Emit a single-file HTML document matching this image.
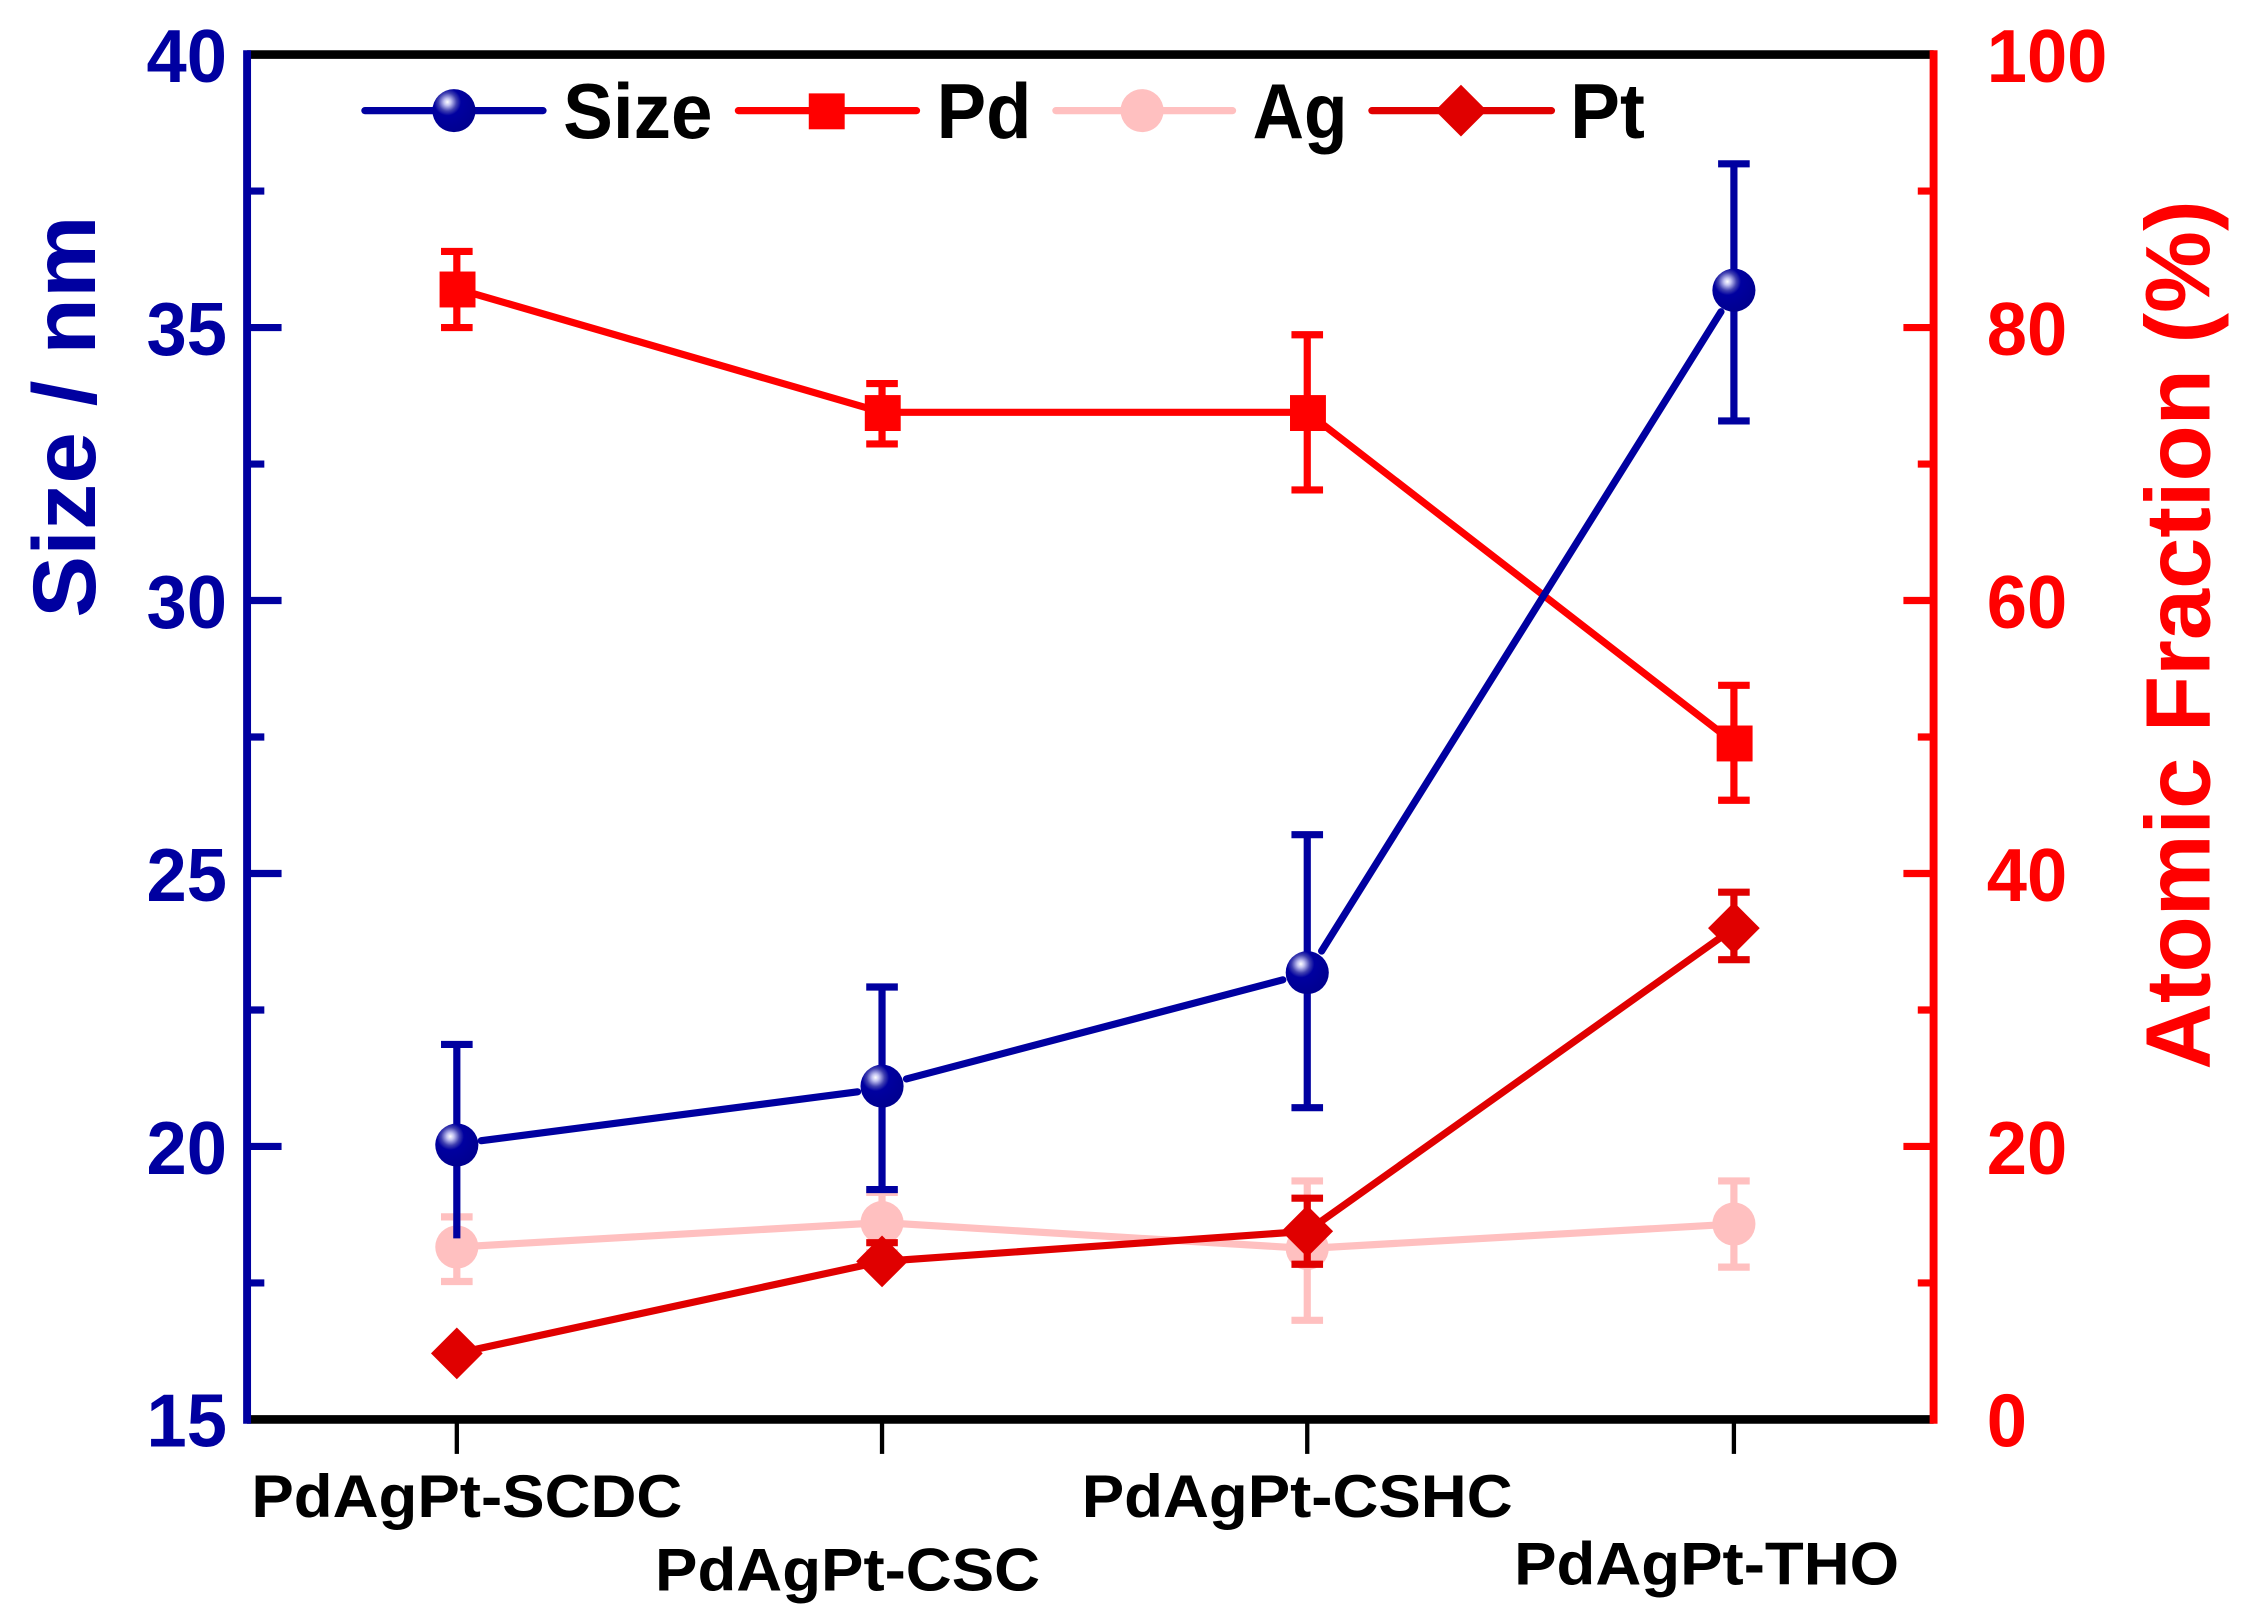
<!DOCTYPE html>
<html><head><meta charset="utf-8"><style>html,body{margin:0;padding:0;background:#fff}svg{display:block}</style></head>
<body>
<svg width="2241" height="1622" viewBox="0 0 1560 1129" preserveAspectRatio="none" xmlns="http://www.w3.org/2000/svg" font-family="'Liberation Sans', Arial, sans-serif" font-weight="bold">
<defs>
<radialGradient id="bg" cx="0.35" cy="0.3" r="0.7">
<stop offset="0" stop-color="#ffffff"/><stop offset="0.12" stop-color="#c0c0f0"/><stop offset="0.3" stop-color="#4040b0"/><stop offset="0.45" stop-color="#0000a0"/><stop offset="1" stop-color="#000090"/>
</radialGradient>
</defs>
<line x1="172" y1="38" x2="1346" y2="38" stroke="#000" stroke-width="6"/>
<line x1="172" y1="988" x2="1346" y2="988" stroke="#000" stroke-width="6"/>
<line x1="172" y1="35" x2="172" y2="991" stroke="#0000a0" stroke-width="5.5"/>
<line x1="1346" y1="35" x2="1346" y2="991" stroke="#ff0000" stroke-width="5.5"/>
<g stroke="#0000a0" stroke-width="5">
<line x1="172" y1="228" x2="196" y2="228"/><line x1="172" y1="418" x2="196" y2="418"/><line x1="172" y1="608" x2="196" y2="608"/><line x1="172" y1="798" x2="196" y2="798"/>
<line x1="172" y1="133" x2="184" y2="133"/><line x1="172" y1="323" x2="184" y2="323"/><line x1="172" y1="513" x2="184" y2="513"/><line x1="172" y1="703" x2="184" y2="703"/><line x1="172" y1="893" x2="184" y2="893"/>
</g>
<g stroke="#ff0000" stroke-width="5">
<line x1="1346" y1="228" x2="1325" y2="228"/><line x1="1346" y1="418" x2="1325" y2="418"/><line x1="1346" y1="608" x2="1325" y2="608"/><line x1="1346" y1="798" x2="1325" y2="798"/>
<line x1="1346" y1="133" x2="1335" y2="133"/><line x1="1346" y1="323" x2="1335" y2="323"/><line x1="1346" y1="513" x2="1335" y2="513"/><line x1="1346" y1="703" x2="1335" y2="703"/><line x1="1346" y1="893" x2="1335" y2="893"/>
</g>
<g stroke="#000" stroke-width="3">
<line x1="318" y1="988" x2="318" y2="1012"/><line x1="614" y1="988" x2="614" y2="1012"/><line x1="910" y1="988" x2="910" y2="1012"/><line x1="1207" y1="988" x2="1207" y2="1012"/>
</g>
<g fill="#0000a0" font-size="52" text-anchor="end">
<text x="158" y="57" textLength="56" lengthAdjust="spacingAndGlyphs">40</text><text x="158" y="247" textLength="56" lengthAdjust="spacingAndGlyphs">35</text><text x="158" y="437" textLength="56" lengthAdjust="spacingAndGlyphs">30</text><text x="158" y="627" textLength="56" lengthAdjust="spacingAndGlyphs">25</text><text x="158" y="817" textLength="56" lengthAdjust="spacingAndGlyphs">20</text><text x="158" y="1007" textLength="56" lengthAdjust="spacingAndGlyphs">15</text>
</g>
<g fill="#ff0000" font-size="52" text-anchor="start">
<text x="1383" y="57" textLength="84" lengthAdjust="spacingAndGlyphs">100</text><text x="1383" y="247" textLength="56" lengthAdjust="spacingAndGlyphs">80</text><text x="1383" y="437" textLength="56" lengthAdjust="spacingAndGlyphs">60</text><text x="1383" y="627" textLength="56" lengthAdjust="spacingAndGlyphs">40</text><text x="1383" y="817" textLength="56" lengthAdjust="spacingAndGlyphs">20</text><text x="1383" y="1007" textLength="28" lengthAdjust="spacingAndGlyphs">0</text>
</g>
<text transform="translate(66,290) rotate(-90)" text-anchor="middle" fill="#0000a0" font-size="62" textLength="280" lengthAdjust="spacingAndGlyphs">Size / nm</text>
<text transform="translate(1538,442) rotate(-90)" text-anchor="middle" fill="#ff0000" font-size="64" textLength="605" lengthAdjust="spacingAndGlyphs">Atomic Fraction (%)</text>
<g fill="#000" font-size="42" text-anchor="middle">
<text x="325" y="1056" textLength="300" lengthAdjust="spacingAndGlyphs">PdAgPt-SCDC</text>
<text x="590" y="1107" textLength="268" lengthAdjust="spacingAndGlyphs">PdAgPt-CSC</text>
<text x="903" y="1056" textLength="300" lengthAdjust="spacingAndGlyphs">PdAgPt-CSHC</text>
<text x="1188" y="1103" textLength="268" lengthAdjust="spacingAndGlyphs">PdAgPt-THO</text>
</g>
<g stroke="#ffc0c0" stroke-width="5" fill="none">
<polyline points="318,868 614,851 910,869 1207,852"/>
<path d="M318,847V892M307,847h22M307,892h22 M614,830V872M603,830h22M603,872h22 M910,822V919M899,822h22M899,919h22 M1207,822V882M1196,822h22M1196,882h22"/>
</g>
<g fill="#ffc0c0"><circle cx="318" cy="868" r="15"/><circle cx="614" cy="851" r="15"/><circle cx="910" cy="869" r="15"/><circle cx="1207" cy="852" r="15"/></g>
<g stroke="#e00000" stroke-width="5" fill="none">
<polyline points="318,942 614,878 910,857 1207,646"/>
<path d="M318,930V955 M614,865V890M603,865h22 M910,834V880M899,834h22M899,880h22 M1207,621V668M1196,621h22M1196,668h22"/>
</g>
<g fill="#e00000">
<path d="M318,924l18,18l-18,18l-18,-18z"/><path d="M614,860l18,18l-18,18l-18,-18z"/><path d="M910,839l18,18l-18,18l-18,-18z"/><path d="M1207,628l18,18l-18,18l-18,-18z"/>
</g>
<g stroke="#ff0000" stroke-width="5" fill="none">
<polyline points="318,201 614,287 910,287 1207,517"/>
<path d="M318,175V228M307,175h22M307,228h22 M614,267V309M603,267h22M603,309h22 M910,233V341M899,233h22M899,341h22 M1207,477V557M1196,477h22M1196,557h22"/>
</g>
<g fill="#ff0000"><rect x="306" y="189" width="25" height="25"/><rect x="602" y="275" width="25" height="25"/><rect x="898" y="275" width="25" height="25"/><rect x="1195" y="505" width="25" height="25"/></g>
<g stroke="#0000a0" stroke-width="5" fill="none" stroke-linecap="round">
<line x1="335" y1="794" x2="597" y2="760"/><line x1="631" y1="751" x2="893" y2="682"/><line x1="920" y1="662" x2="1198" y2="217"/>
<path d="M318,727V862M307,727h22 M614,687V828M603,687h22M603,828h22 M910,581V771M899,581h22M899,771h22 M1207,114V293M1196,114h22M1196,293h22" stroke-linecap="butt"/>
</g>
<g fill="url(#bg)"><circle cx="318" cy="797" r="15"/><circle cx="614" cy="756" r="15"/><circle cx="910" cy="677" r="15"/><circle cx="1207" cy="202" r="15"/></g>
<g stroke-width="5" stroke-linecap="round">
<line x1="254" y1="77" x2="378" y2="77" stroke="#0000a0"/>
<line x1="514" y1="77" x2="638" y2="77" stroke="#ff0000"/>
<line x1="735" y1="77" x2="858" y2="77" stroke="#ffc0c0"/>
<line x1="955" y1="77" x2="1080" y2="77" stroke="#e00000"/>
</g>
<circle cx="316" cy="77" r="15" fill="url(#bg)"/>
<rect x="563" y="65" width="25" height="25" fill="#ff0000"/>
<circle cx="795" cy="77" r="15" fill="#ffc0c0"/>
<path d="M1017,59l18,18l-18,18l-18,-18z" fill="#e00000"/>
<g fill="#000" font-size="54">
<text x="392" y="96" textLength="104" lengthAdjust="spacingAndGlyphs">Size</text>
<text x="652" y="96" textLength="66" lengthAdjust="spacingAndGlyphs">Pd</text>
<text x="872" y="96" textLength="66" lengthAdjust="spacingAndGlyphs">Ag</text>
<text x="1093" y="96" textLength="52" lengthAdjust="spacingAndGlyphs">Pt</text>
</g>
</svg>
</body></html>
